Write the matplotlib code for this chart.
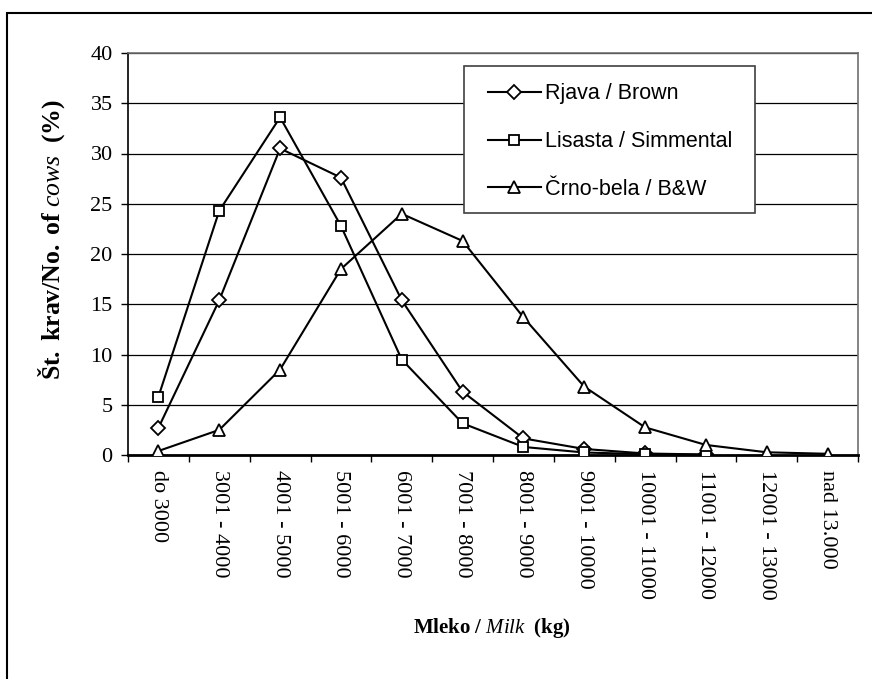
import matplotlib
matplotlib.use('Agg')
import matplotlib.pyplot as plt
from matplotlib.patches import Rectangle

# ── Data ──────────────────────────────────────────────────────────────────────
categories = ['do 3000', '3001 - 4000', '4001 - 5000', '5001 - 6000',
              '6001 - 7000', '7001 - 8000', '8001 - 9000', '9001 - 10000',
              '10001 - 11000', '11001 - 12000', '12001 - 13000', 'nad 13.000']

brown = [2.7, 15.4, 30.5, 27.6, 15.4, 6.3, 1.65, 0.6, 0.15, 0.05]
simmental = [5.8, 24.3, 33.6, 22.8, 9.5, 3.15, 0.8, 0.25, 0.08, 0.03]
bw = [0.4, 2.5, 8.5, 18.5, 24.0, 21.3, 13.7, 6.8, 2.75, 1.0, 0.27, 0.12]

series_labels = ['Rjava / Brown', 'Lisasta / Simmental', 'Črno-bela / B&W']

# ── Fonts ─────────────────────────────────────────────────────────────────────
plt.rcParams['font.family'] = ['Liberation Serif', 'DejaVu Serif']
plt.rcParams['mathtext.fontset'] = 'custom'
plt.rcParams['mathtext.rm'] = 'Liberation Serif'
plt.rcParams['mathtext.it'] = 'Liberation Serif:italic'
plt.rcParams['mathtext.bf'] = 'Liberation Serif:bold'

W, H = 872, 679
fig = plt.figure(figsize=(W / 100, H / 100), dpi=100)
ax = fig.add_axes([128 / W, 1 - 455 / H, (858 - 128) / W, (455 - 53) / H])

# outer frame (left + top edges visible, rest cut off)
fig.add_artist(Rectangle((7 / W, -0.1), 1.2, 1 - 13 / H + 0.1,
                         transform=fig.transFigure, fill=False,
                         lw=1.5, edgecolor='black'))

# ── Series ────────────────────────────────────────────────────────────────────
x_b = list(range(len(brown)))
x_s = list(range(len(simmental)))
x_w = list(range(len(bw)))
ax.plot(x_b, brown, color='black', lw=1.5, marker='D', ms=7,
        mfc='white', mec='black', mew=1.3, label=series_labels[0], zorder=3)
ax.plot(x_s, simmental, color='black', lw=1.5, marker='s', ms=7,
        mfc='white', mec='black', mew=1.3, label=series_labels[1], zorder=3)
ax.plot(x_w, bw, color='black', lw=1.5, marker='^', ms=9,
        mfc='white', mec='black', mew=1.3, label=series_labels[2], zorder=3)

# ── Axes ──────────────────────────────────────────────────────────────────────
ax.set_xlim(-0.5, len(categories) - 0.5)
ax.set_ylim(0, 40)
ax.set_yticks(range(0, 41, 5))
ax.yaxis.grid(True, color='black', lw=0.9)
ax.set_axisbelow(True)

ax.set_xticks(range(len(categories)))
ax.set_xticklabels(categories, rotation=270, fontsize=16,
                   va='top', ha='center')
ax.set_xticks([i - 0.5 for i in range(len(categories) + 1)], minor=True)
ax.tick_params(axis='x', which='major', length=0, pad=11)
ax.tick_params(axis='x', which='minor', length=5, width=1, direction='out')
ax.tick_params(axis='y', length=5, width=1, direction='out', labelsize=16, pad=6)

for side in ('top', 'right'):
    ax.spines[side].set_color('#707070')
    ax.spines[side].set_linewidth(1.2)
ax.spines['left'].set_linewidth(1.2)
ax.spines['bottom'].set_linewidth(2)

ax.set_ylabel(r'$\mathbf{Št.\ krav/No.\ of}\ \mathit{cows}\ \ \mathbf{(\%)}$',
              fontsize=18.5)
ax.yaxis.set_label_coords(-0.083, 0.535)
ax.set_xlabel(r'$\mathbf{Mleko\ /}\ \mathit{Milk}\ \ \mathbf{(kg)}$', fontsize=15)
ax.xaxis.set_label_coords(0.499, -0.40)

# legend box drawn separately so the inner padding can match
ax.add_patch(Rectangle((0.4603, 0.602), 0.8589 - 0.4603, 0.9677 - 0.602,
                       transform=ax.transAxes, facecolor='white',
                       edgecolor='#404040', lw=1.2, zorder=4))
leg = ax.legend(loc='upper left', bbox_to_anchor=(0.493, 0.925),
                prop={'family': 'Liberation Sans', 'size': 15.5},
                handlelength=2.45, handletextpad=0.2, labelspacing=1.25,
                borderpad=0, borderaxespad=0, frameon=False)
leg.set_zorder(5)

fig.savefig('out.png', dpi=100)
